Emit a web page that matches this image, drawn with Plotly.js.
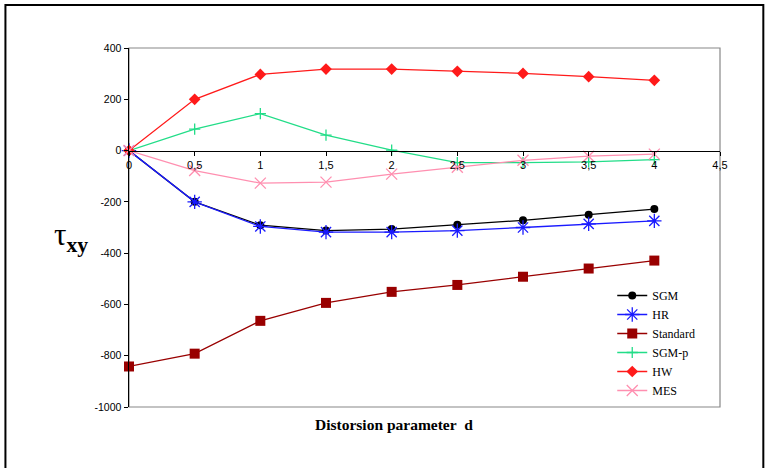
<!DOCTYPE html>
<html>
<head>
<meta charset="utf-8">
<script src="https://cdn.plot.ly/plotly-3.0.1.min.js"></script>
<style>html,body{margin:0;padding:0;background:#fff;}#chart{width:766px;height:468px;}</style>
</head>
<body>
<div id="chart"></div>
<script>
var d = [0, 0.5, 1, 1.5, 2, 2.5, 3, 3.5, 4];
var sgm = [0, -200, -291, -312, -306, -289, -272, -250, -228];
var hr = [0, -200, -296, -318, -318, -312, -300, -286, -274];
var standard = [-842, -792, -664, -594, -551, -524, -492, -460, -429];
var sgmp = [0, 84, 144, 60, 2, -47, -47, -44, -35];
var hw = [0, 200, 297, 318, 318, 309, 301, 288, 274];
var mes = [0, -78, -127, -123, -92, -65, -38, -22, -14];
var xTickVals = [0, 0.5, 1, 1.5, 2, 2.5, 3, 3.5, 4, 4.5];
var xTickLabels = ["0", "0,5", "1", "1,5", "2", "2,5", "3", "3,5", "4", "4,5"];
var yTickVals = [400, 200, 0, -200, -400, -600, -800, -1000];
var yTickLabels = ["400", "200", "0", "-200", "-400", "-600", "-800", "-1000"];

function tr(name, y, color, symbol, size, lw, extra) {
  var m = {symbol: symbol, size: size, color: color};
  if (extra) m.line = {color: color, width: extra};
  return {x: d, y: y, name: name, type: 'scatter', mode: 'lines+markers',
    line: {color: color, width: lw}, marker: m, cliponaxis: false};
}
var data = [
  tr('SGM', sgm, '#000000', 'circle', 8, 1.3),
  tr('HR', hr, '#1a1aff', 'asterisk-open', 12, 1.3, 1.3),
  tr('Standard', standard, '#990000', 'square', 10, 1.3),
  tr('SGM-p', sgmp, '#22dd88', 'cross-thin-open', 8, 1.3, 1.3),
  tr('HW', hw, '#ff1a1a', 'diamond', 9, 1.3),
  tr('MES', mes, '#ff8fb0', 'x-thin-open', 11, 1.3, 1.3)
];
var W = 590.7, H = 359;
function px(x){return (x-129)/W;}
function py(y){return (407-y)/H;}
var fL = px(5.5), fR = px(763), fT = py(5), fB = py(600);
var layout = {
  width: 766, height: 468,
  margin: {l: 129, r: 46, t: 48, b: 61},
  paper_bgcolor: '#fff', plot_bgcolor: '#fff',
  showlegend: true,
  legend: {x: px(612), y: py(281), xanchor: 'left', yanchor: 'top',
    font: {family: 'Liberation Serif, Times New Roman, serif', size: 12, color: '#000'},
    bgcolor: 'rgba(0,0,0,0)', tracegroupgap: 0, itemwidth: 30},
  xaxis: {range: [0, 4.5], anchor: 'free', position: 1000/1400,
    showgrid: false, zeroline: false, showline: true, linecolor: '#000', linewidth: 1.5,
    ticks: 'outside', ticklen: 4, tickcolor: '#000', tickwidth: 1,
    tickvals: xTickVals, ticktext: xTickLabels,
    tickfont: {family: 'Liberation Sans, Arial, sans-serif', size: 11, color: '#000'}},
  yaxis: {range: [-1000, 400], showgrid: false, zeroline: false,
    showline: true, linecolor: '#000', linewidth: 1.5,
    ticks: 'outside', ticklen: 4, tickcolor: '#000', tickwidth: 1,
    tickvals: yTickVals, ticktext: yTickLabels,
    tickfont: {family: 'Liberation Sans, Arial, sans-serif', size: 10.5, color: '#000'}},
  shapes: [
    {type: 'rect', xref: 'paper', yref: 'paper', x0: 0, x1: 1, y0: 0, y1: 1,
      line: {color: '#888', width: 1.2}, layer: 'below'},
    {type: 'path', xref: 'paper', yref: 'paper',
      path: 'M ' + fL + ',' + fB + ' L ' + fL + ',' + fT + ' L ' + fR + ',' + fT + ' L ' + fR + ',' + fB,
      line: {color: '#000', width: 2}, layer: 'below'}
  ],
  annotations: [
    {xref: 'paper', yref: 'paper', x: px(71), y: py(237), xanchor: 'center', yanchor: 'middle', showarrow: false,
      text: 'τ<sub><b>xy</b></sub>',
      font: {family: 'Liberation Serif, Times New Roman, serif', size: 31, color: '#000'}},
    {xref: 'paper', yref: 'paper', x: px(394), y: py(425), xanchor: 'center', yanchor: 'middle', showarrow: false,
      text: '<b>Distorsion parameter\u00a0\u00a0d</b>',
      font: {family: 'Liberation Serif, Times New Roman, serif', size: 15.5, color: '#000'}}
  ]
};
Plotly.newPlot('chart', data, layout, {displayModeBar: false, staticPlot: true});
</script>
</body>
</html>
